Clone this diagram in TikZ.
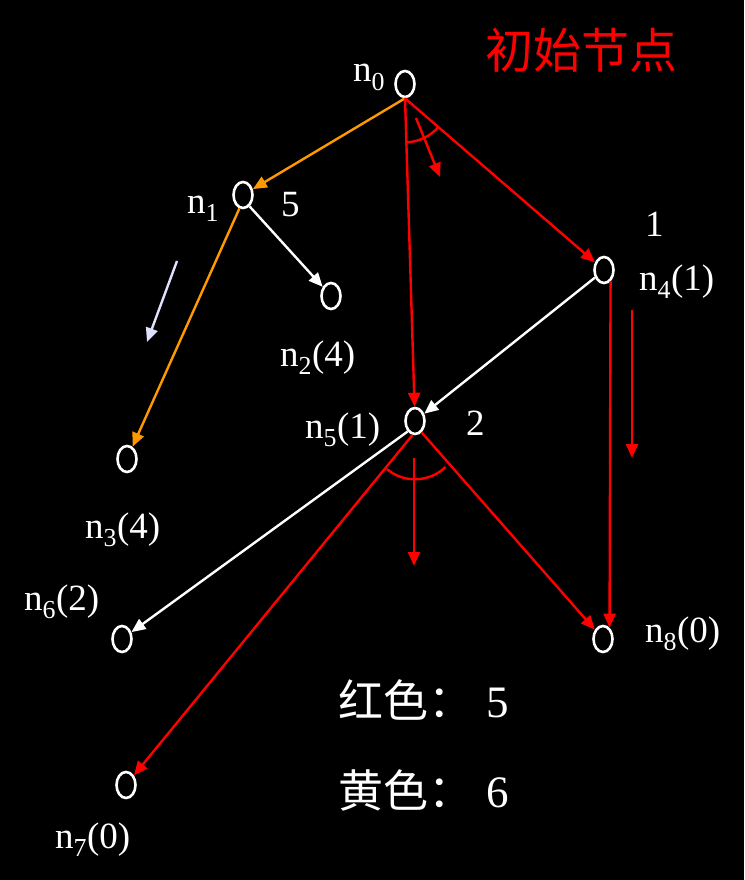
\documentclass[tikz,border=0pt]{standalone}
\usepackage{fontspec}
\setmainfont{Liberation Serif}
\newfontfamily\cjk{Noto Sans CJK SC}
\usetikzlibrary{arrows.meta,shapes.geometric,calc}
\definecolor{org}{RGB}{255,153,0}
\definecolor{lav}{RGB}{224,224,255}
\definecolor{rd}{RGB}{255,0,0}
\begin{document}
\begin{tikzpicture}[x=1pt,y=-1pt,
  ov/.style={ellipse,draw=white,line width=2.6pt,minimum width=19pt,minimum height=26pt,inner sep=0pt},
  ln/.style={line width=2.4pt,-{Triangle[length=14pt,width=12pt]}},
  lbl/.style={text=white,font=\fontsize{37}{40}\selectfont,inner sep=0pt,anchor=base west},
  big/.style={text=white,font=\fontsize{45}{48}\selectfont,inner sep=0pt,anchor=west},
  arcst/.style={line width=2.4pt,rd}]
\useasboundingbox[fill=black] (0,0) rectangle (744,880);
% nodes
\node[ov] (n0) at (405,84) {};
\node[ov] (n1) at (243,195) {};
\node[ov] (n2) at (331,296) {};
\node[ov] (n3) at (127,459) {};
\node[ov] (n4) at (604,270) {};
\node[ov] (n5) at (415,421) {};
\node[ov] (n6) at (122,639) {};
\node[ov] (n7) at (126,785) {};
\node[ov] (n8) at (603,639) {};
% labels
\node[lbl] (l0) at (353,82) {n\textsubscript{0}};
\node[lbl] (l1) at (187,213) {n\textsubscript{1}};
\node[lbl] (c5) at (281,216) {5};
\node[lbl] (l2) at (280,366) {n\textsubscript{2}(4)};
\node[lbl] (c1) at (645,236) {1};
\node[lbl] (l4) at (639,290) {n\textsubscript{4}(1)};
\node[lbl] (l5) at (305,438) {n\textsubscript{5}(1)};
\node[lbl] (c2) at (466,435) {2};
\node[lbl] (l3) at (85,538) {n\textsubscript{3}(4)};
\node[lbl] (l6) at (24,610) {n\textsubscript{6}(2)};
\node[lbl] (l8) at (645,642) {n\textsubscript{8}(0)};
\node[lbl] (l7) at (55,848) {n\textsubscript{7}(0)};
\node[text=rd,font=\fontsize{48}{50}\selectfont\cjk,inner sep=0pt] (title) at (581,50) {初始节点};
\node[big] (red) at (338,700) {{\cjk 红色：}\hspace{13pt}5};
\node[big] (yel) at (338,790) {{\cjk 黄色：}\hspace{13pt}6};
% edges
\draw[ln,org] (n0.south) -- (n1);
\draw[ln,white] (n1.-60) -- (n2);
\draw[ln,org] (n1.-105) -- (n3);
\draw[ln,rd] (n0.south) -- (n5);
\draw[ln,rd] (n0.south) -- (n4);
\draw[ln,white] (n4.-140) -- (n5);
\draw[ln,rd] (n4.-60) -- (n8.60);
\draw[ln,white] (n5.-125) -- (n6);
\draw[ln,rd] (n5.-100) -- (n7);
\draw[ln,rd] (n5.-60) -- (n8);
% free arrows
\coordinate (a1s) at (416,118); \coordinate (a1e) at (440,177);
\draw[ln,rd] (a1s) -- (a1e);
\coordinate (a2s) at (177,261); \coordinate (a2e) at (147,342);
\draw[ln,lav] (a2s) -- (a2e);
\coordinate (a3s) at (632,310); \coordinate (a3e) at (632,458);
\draw[ln,rd] (a3s) -- (a3e);
\coordinate (a4s) at (414,458); \coordinate (a4e) at (414,566);
\draw[ln,rd] (a4s) -- (a4e);
% arcs
\draw[arcst] ($(n0.south)+(-88:44pt)$) arc[start angle=-88, end angle=-40, radius=44pt];
\draw[arcst] ($(n5.south)+(-130:44pt)$) arc[start angle=-130, end angle=-46, radius=44pt];
\end{tikzpicture}
\end{document}
